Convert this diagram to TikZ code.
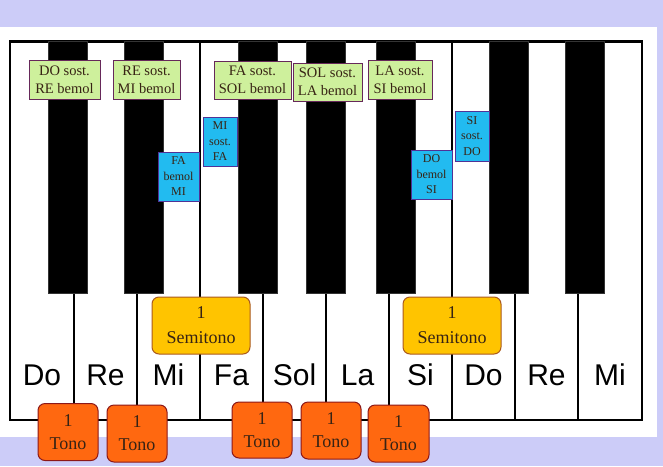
\documentclass[tikz,border=0pt]{standalone}
\usepackage{fontspec}
\setmainfont{Liberation Serif}
\newfontfamily\keyfont{Liberation Sans}
\usepackage{xcolor}
\usetikzlibrary{positioning}

\definecolor{lavender}{RGB}{204,204,248}
\definecolor{sostgreen}{RGB}{206,240,156}
\definecolor{bemolblue}{RGB}{34,187,240}
\definecolor{semiyellow}{RGB}{255,196,0}
\definecolor{tonoorange}{RGB}{255,104,16}
\definecolor{boxline}{RGB}{102,40,90}
\definecolor{bluebox}{RGB}{80,50,150}
\definecolor{tonoline}{RGB}{140,24,24}
\definecolor{semiline}{RGB}{170,90,30}
\definecolor{boxtext}{RGB}{55,35,20}

\begin{document}
\begin{tikzpicture}[
    x=1pt, y=-1pt,
    whitekey/.style={draw, line width=1.4pt, fill=white},
    blackkey/.style={fill=black, draw=black!80, inner sep=0pt,
                     minimum width=39pt, minimum height=252pt},
    notename/.style={font=\keyfont\fontsize{30}{30}\selectfont},
    sostbox/.style={draw=boxline, line width=1pt, fill=sostgreen,
                    inner sep=0pt, align=center, text=boxtext,
                    font=\fontsize{14.5}{18}\selectfont},
    bemolbox/.style={draw=bluebox, line width=1pt, fill=bemolblue,
                     inner sep=0pt, align=center, text=boxtext,
                     font=\fontsize{12}{15.5}\selectfont},
    semibox/.style={draw=semiline, line width=1pt, fill=semiyellow,
                    rounded corners=7pt, inner sep=0pt, align=center,
                    minimum width=98pt, minimum height=57pt, text=boxtext,
                    font=\fontsize{18}{25}\selectfont},
    tonobox/.style={draw=tonoline, line width=1pt, fill=tonoorange,
                    rounded corners=7pt, inner sep=0pt, align=center,
                    minimum width=60pt, minimum height=57pt, text=boxtext,
                    font=\fontsize{18}{23}\selectfont},
  ]

  % ── Background ──
  \useasboundingbox (0,0) rectangle (663,466);
  \fill[lavender] (0,0) rectangle (663,466);
  \fill[white] (0,27) rectangle (657,437);

  % ── White keys ──
  \draw[whitekey] (10,41) rectangle (642,420);
  \draw[line width=1.4pt] (74,41) -- (74,420);
  \draw[line width=1.4pt] (137,41) -- (137,420);
  \draw[line width=1.4pt] (200,41) -- (200,420);
  \draw[line width=1.4pt] (263,41) -- (263,420);
  \draw[line width=1.4pt] (326,41) -- (326,420);
  \draw[line width=1.4pt] (389,41) -- (389,420);
  \draw[line width=1.4pt] (452,41) -- (452,420);
  \draw[line width=1.4pt] (515,41) -- (515,420);
  \draw[line width=1.4pt] (578,41) -- (578,420);
  \draw[line width=3pt] (10,41) -- (642,41);

  % ── Black keys ──
  \node[blackkey, anchor=north] at (67.5,41) (cis) {};
  \node[blackkey, anchor=north] at (143.5,41) (dis) {};
  \node[blackkey, anchor=north] at (257.5,41) (fis) {};
  \node[blackkey, anchor=north] at (326,41) (gis) {};
  \node[blackkey, anchor=north] at (395.5,41) (ais) {};
  \node[blackkey, anchor=north] at (509,41) (cis2) {};
  \node[blackkey, anchor=north] at (584.5,41) (dis2) {};

  % ── Note names ──
  \node[notename] at (42,375) (do) {Do};
  \node[notename] at (105.5,375) (re) {Re};
  \node[notename] at (168.5,375) (mi) {Mi};
  \node[notename] at (231.5,375) (fa) {Fa};
  \node[notename] at (294.5,375) (sol) {Sol};
  \node[notename] at (357.5,375) (la) {La};
  \node[notename] at (420.5,375) (si) {Si};
  \node[notename] at (483.5,375) (do2) {Do};
  \node[notename] at (546.5,375) (re2) {Re};
  \node[notename] at (610,375) (mi2) {Mi};

  % ── Sharps / flats ──
  \node[sostbox, minimum width=71pt, minimum height=39pt] at (64.5,79.5)
    (dosost) {DO sost.\\RE bemol};
  \node[sostbox, minimum width=67pt, minimum height=39pt] at (146.5,79.5)
    (resost) {RE sost.\\MI bemol};
  \node[sostbox, minimum width=77pt, minimum height=38pt] at (252.5,80)
    (fasost) {FA sost.\\SOL bemol};
  \node[sostbox, minimum width=69pt, minimum height=38pt] at (327.5,82)
    (solsost) {SOL sost.\\LA bemol};
  \node[sostbox, minimum width=64pt, minimum height=39pt] at (400,79.5)
    (lasost) {LA sost.\\SI bemol};

  % ── Enharmonic white keys ──
  \node[bemolbox, minimum width=41pt, minimum height=49pt] at (178.5,176.5)
    (fabemol) {FA\\bemol\\MI};
  \node[bemolbox, minimum width=34pt, minimum height=49pt] at (220,141.5)
    (misost) {MI\\sost.\\FA};
  \node[bemolbox, minimum width=41pt, minimum height=49pt] at (431.5,174.5)
    (dobemol) {DO\\bemol\\SI};
  \node[bemolbox, minimum width=34pt, minimum height=50pt] at (472,136)
    (sisost) {SI\\sost.\\DO};

  % ── Semitones ──
  \node[semibox] at (201,325.5) (semi1) {1\\Semitono};
  \node[semibox] at (452,325.5) (semi2) {1\\Semitono};

  % ── Tones ──
  \node[tonobox] at (68,432) (tono1) {1\\Tono};
  \node[tonobox] at (137,433.5) (tono2) {1\\Tono};
  \node[tonobox, minimum height=56pt] at (262,430) (tono3) {1\\Tono};
  \node[tonobox] at (331,430.5) (tono4) {1\\Tono};
  \node[tonobox, minimum width=61pt] at (398.5,433.5) (tono5) {1\\Tono};

\end{tikzpicture}
\end{document}
